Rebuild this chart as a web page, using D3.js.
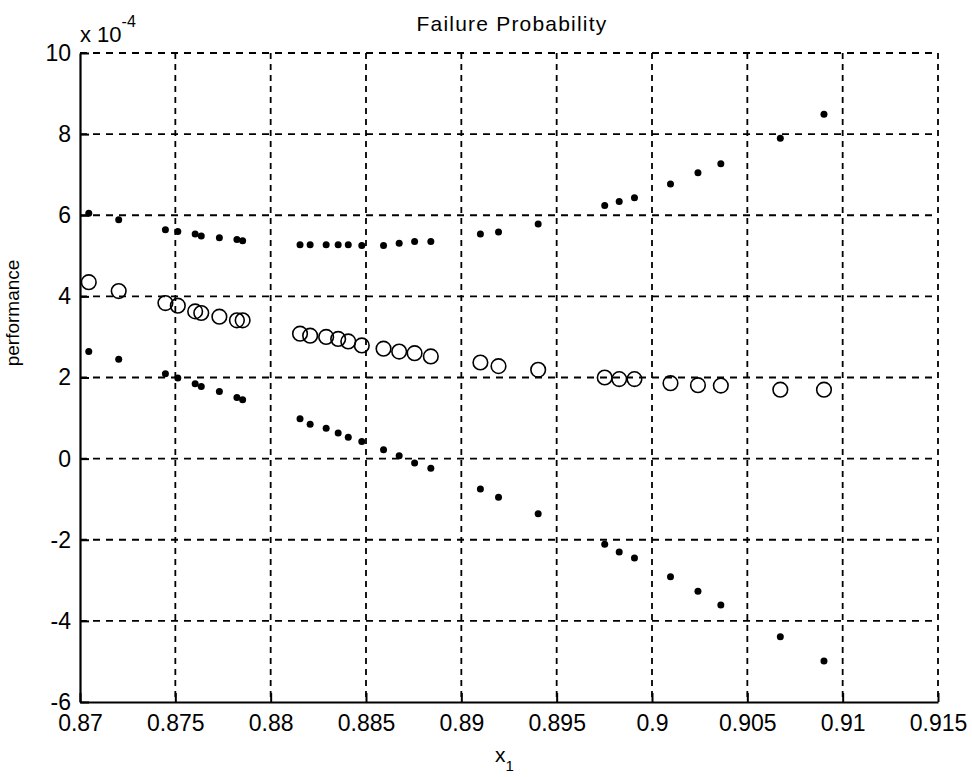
<!DOCTYPE html>
<html>
<head>
<meta charset="utf-8">
<script src="https://cdn.jsdelivr.net/npm/d3@7"></script>
<style>
  html, body { margin: 0; padding: 0; background: #fff; }
  svg text { font-family: "Liberation Sans", Arial, Helvetica, sans-serif; fill: #000; }
</style>
</head>
<body>
<svg id="chart" width="972" height="777"></svg>
<script>
// Design variable x1 at each evaluated design point
const x1Values = [
  0.87046, 0.87203, 0.87448, 0.87513, 0.87604, 0.87636, 0.87731, 0.87823, 0.87853,
  0.88154, 0.88207, 0.88291, 0.88354, 0.88407, 0.88478, 0.88592, 0.88674, 0.88755, 0.88840,
  0.89100, 0.89195, 0.89403, 0.89752, 0.89828, 0.89908, 0.90097, 0.90241, 0.90361,
  0.90673, 0.90902
];
// Upper bound of failure probability (dots)
const upperValues = [
  6.05e-4, 5.89e-4, 5.64e-4, 5.60e-4, 5.54e-4, 5.49e-4, 5.445e-4, 5.40e-4, 5.37e-4,
  5.27e-4, 5.27e-4, 5.27e-4, 5.27e-4, 5.27e-4, 5.255e-4, 5.255e-4, 5.31e-4, 5.35e-4, 5.35e-4,
  5.54e-4, 5.586e-4, 5.783e-4, 6.242e-4, 6.34e-4, 6.43e-4, 6.77e-4, 7.05e-4, 7.27e-4,
  7.90e-4, 8.49e-4
];
// Mean failure probability (open circles)
const meanValues = [
  4.35e-4, 4.13e-4, 3.835e-4, 3.77e-4, 3.63e-4, 3.59e-4, 3.50e-4, 3.41e-4, 3.41e-4,
  3.08e-4, 3.03e-4, 3.00e-4, 2.95e-4, 2.89e-4, 2.79e-4, 2.71e-4, 2.64e-4, 2.60e-4, 2.52e-4,
  2.37e-4, 2.28e-4, 2.19e-4, 2.00e-4, 1.96e-4, 1.96e-4, 1.86e-4, 1.81e-4, 1.80e-4,
  1.70e-4, 1.70e-4
];
// Lower bound of failure probability (dots)
const lowerValues = [
  2.64e-4, 2.45e-4, 2.09e-4, 1.985e-4, 1.845e-4, 1.78e-4, 1.655e-4, 1.51e-4, 1.45e-4,
  0.98e-4, 0.85e-4, 0.75e-4, 0.63e-4, 0.53e-4, 0.42e-4, 0.217e-4, 0.07e-4, -0.11e-4, -0.24e-4,
  -0.75e-4, -0.95e-4, -1.36e-4, -2.11e-4, -2.30e-4, -2.45e-4, -2.91e-4, -3.27e-4, -3.61e-4,
  -4.39e-4, -4.99e-4
];

const xTicks = [0.87, 0.875, 0.88, 0.885, 0.89, 0.895, 0.9, 0.905, 0.91, 0.915];
const xTickLabels = ["0.87", "0.875", "0.88", "0.885", "0.89", "0.895", "0.9", "0.905", "0.91", "0.915"];
const yTicks = [-6e-4, -4e-4, -2e-4, 0, 2e-4, 4e-4, 6e-4, 8e-4, 10e-4];
const yTickLabels = ["-6", "-4", "-2", "0", "2", "4", "6", "8", "10"];

const titleText = "Failure Probability";
const yLabelText = "performance";

const svg = d3.select("#chart");
const plotLeft = 80, plotRight = 938, plotTop = 53, plotBottom = 702;

const x = d3.scaleLinear().domain([0.87, 0.915]).range([plotLeft, plotRight]);
const y = d3.scaleLinear().domain([-6e-4, 10e-4]).range([plotBottom, plotTop]);

// dashed grid
const grid = svg.append("g").attr("stroke", "#000").attr("stroke-width", 1.8).attr("fill", "none");
grid.selectAll("line.v").data(xTicks.slice(1)).join("line")
  .attr("class", "v")
  .attr("x1", d => x(d)).attr("x2", d => x(d))
  .attr("y1", plotTop).attr("y2", plotBottom)
  .attr("stroke-dasharray", "6,5");
grid.selectAll("line.h").data(yTicks.slice(1)).join("line")
  .attr("class", "h")
  .attr("x1", plotLeft).attr("x2", plotRight)
  .attr("y1", d => y(d)).attr("y2", d => y(d))
  .attr("stroke-dasharray", "7,6");

// axes: ticks point inward
const xAxis = d3.axisBottom(x).tickValues(xTicks)
  .tickFormat((d, i) => xTickLabels[i]).tickSizeInner(-9).tickSizeOuter(0).tickPadding(13);
const yAxis = d3.axisLeft(y).tickValues(yTicks)
  .tickFormat((d, i) => yTickLabels[i]).tickSizeInner(-9).tickSizeOuter(0).tickPadding(9);

const gx = svg.append("g").attr("transform", `translate(0,${plotBottom})`).call(xAxis);
const gy = svg.append("g").attr("transform", `translate(${plotLeft},0)`).call(yAxis);
[gx, gy].forEach(g => {
  g.select(".domain").attr("stroke", "#000").attr("stroke-width", 2.2);
  g.selectAll(".tick line").attr("stroke", "#000").attr("stroke-width", 2);
  g.selectAll(".tick text").attr("font-size", 23)
    .attr("font-family", "'Liberation Sans', Arial, sans-serif").attr("fill", "#000");
});
gx.selectAll(".tick text").attr("dy", "0.71em");

// markers
const pts = x1Values.map((v, i) => ({ x: v, up: upperValues[i], mean: meanValues[i], low: lowerValues[i] }));
svg.append("g").selectAll("circle").data(pts).join("circle")
  .attr("cx", d => x(d.x)).attr("cy", d => y(d.up)).attr("r", 3.5).attr("fill", "#000");
svg.append("g").selectAll("circle").data(pts).join("circle")
  .attr("cx", d => x(d.x)).attr("cy", d => y(d.low)).attr("r", 3.5).attr("fill", "#000");
svg.append("g").selectAll("circle").data(pts).join("circle")
  .attr("cx", d => x(d.x)).attr("cy", d => y(d.mean)).attr("r", 7.3)
  .attr("fill", "none").attr("stroke", "#000").attr("stroke-width", 1.6);

// title
svg.append("text").attr("x", 512).attr("y", 31).attr("text-anchor", "middle")
  .attr("font-size", 21).attr("letter-spacing", 1.2).text(titleText);

// exponent multiplier
const mult = svg.append("text").attr("x", 80).attr("y", 42).attr("font-size", 22);
mult.append("tspan").text("x 10");
mult.append("tspan").attr("font-size", 16).attr("dy", -15).text("-4");

// y label
svg.append("text").attr("transform", "translate(19,313) rotate(-90)")
  .attr("text-anchor", "middle").attr("font-size", 19).text(yLabelText);

// x label
const xl = svg.append("text").attr("x", 495).attr("y", 762).attr("font-size", 21);
xl.append("tspan").text("x");
xl.append("tspan").attr("font-size", 15).attr("dy", 9).text("1");
</script>
</body>
</html>
